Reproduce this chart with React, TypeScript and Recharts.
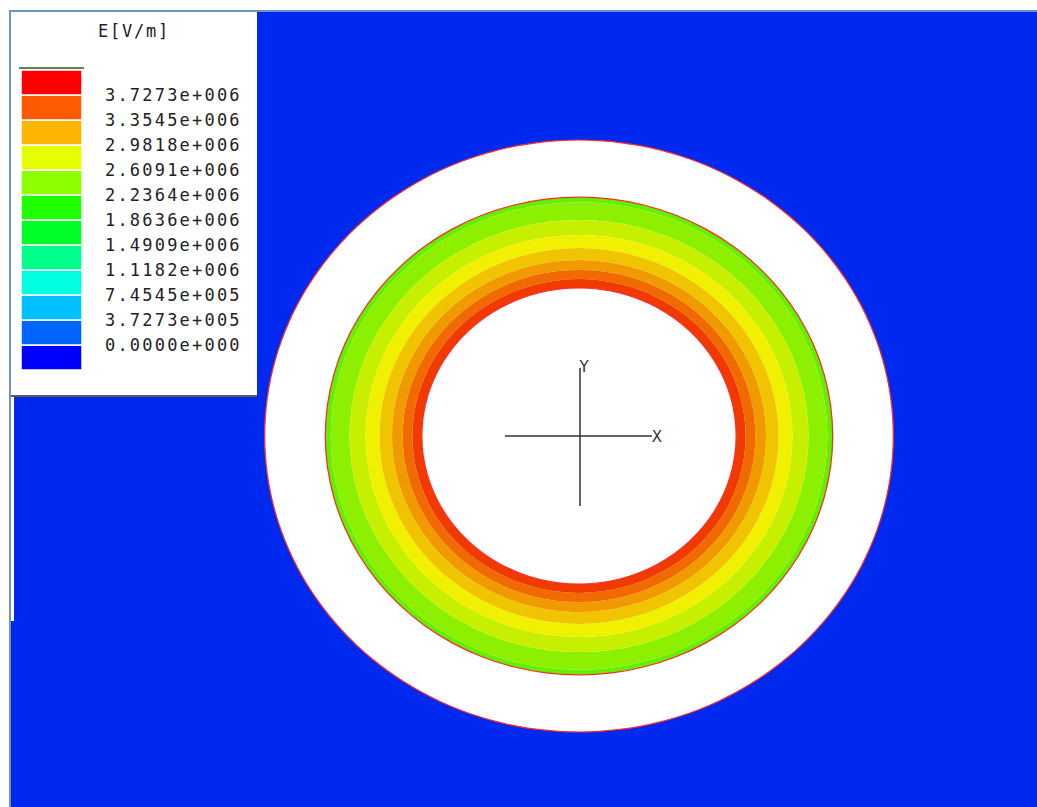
import React from "react";
import { PieChart, Pie, Cell, BarChart, Bar, XAxis, YAxis } from "recharts";

// field bands, radii in mm (outer edge of each band, going inward)
const bandOuterRadii = [8.07, 7.9, 7.3, 6.79, 6.35, 5.95, 5.61, 5.3];
const bandColors = [
  "#62f000",
  "#8cf000",
  "#c6f000",
  "#f0f000",
  "#f0c400",
  "#f09a00",
  "#f06a00",
  "#f03a00",
];
const innerConductorRadius = 5.0;
const outerShieldRadius = 10.0;

// legend
const legendColors = [
  "#0000ff",
  "#0064ff",
  "#00c0ff",
  "#00ffe0",
  "#00ff8c",
  "#00ff28",
  "#1eff00",
  "#8cff00",
  "#e6ff00",
  "#ffb400",
  "#ff5a00",
  "#ff0000",
];
const legendLevels = [
  0, 372730, 745450, 1118200, 1490900, 1863600, 2236400, 2609100, 2981800,
  3354500, 3727300,
];

const PX_PER_MM = 29.6;
const X_STRETCH = 1.062;
const CX = 579;
const CY = 436;
const BLUE = "#0029f0";
const FRAME = "#6d93cf";
const MONO = "'DejaVu Sans Mono', 'Liberation Mono', monospace";

function fmtLevel(v: number) {
  const [m, e] = v.toExponential(4).split("e");
  const sign = e[0] === "-" ? "-" : "+";
  const digits = e.replace(/[+-]/, "").padStart(3, "0");
  return `${m}e${sign}${digits}`;
}

const one = [{ v: 1 }];

function ringPie(r0: number, r1: number, color: string, id: string) {
  return (
    <Pie
      key={id}
      data={one}
      dataKey="v"
      cx={CX}
      cy={CY}
      innerRadius={r0}
      outerRadius={r1}
      startAngle={90}
      endAngle={-270}
      stroke="none"
      isAnimationActive={false}
    >
      <Cell fill={color} />
    </Pie>
  );
}

export default function App() {
  const legendRow: Record<string, number> = {};
  legendColors.forEach((_, i) => (legendRow[`k${i}`] = 1));
  const edge = (r: number, id: string) =>
    ringPie(r * PX_PER_MM - 0.6, r * PX_PER_MM + 0.6, "#ff2a2a", id);

  return (
    <div
      style={{
        position: "absolute",
        left: 0,
        top: 0,
        width: 1037,
        height: 807,
        overflow: "hidden",
        background: "#fff",
      }}
    >
      {/* background + frame */}
      <div style={{ position: "absolute", left: 11, top: 11, width: 1026, height: 796, background: BLUE }} />
      <div style={{ position: "absolute", left: 9, top: 10, width: 1028, height: 1.5, background: FRAME }} />
      <div style={{ position: "absolute", left: 9, top: 10, width: 2, height: 797, background: FRAME }} />
      <div style={{ position: "absolute", left: 11, top: 397, width: 2.5, height: 224, background: "#fff" }} />

      {/* coax cross-section */}
      <div
        style={{
          position: "absolute",
          left: 0,
          top: 0,
          transform: `scaleX(${X_STRETCH})`,
          transformOrigin: `${CX}px ${CY}px`,
        }}
      >
        <PieChart width={1037} height={807} margin={{ top: 0, right: 0, bottom: 0, left: 0 }}>
          {ringPie(0, outerShieldRadius * PX_PER_MM, "#ffffff", "shield")}
          {bandOuterRadii.map((r, i) =>
            ringPie(
              (bandOuterRadii[i + 1] ?? innerConductorRadius) * PX_PER_MM,
              r * PX_PER_MM,
              bandColors[i],
              `band${i}`
            )
          )}
          {ringPie(0, innerConductorRadius * PX_PER_MM, "#ffffff", "core")}
          {edge(outerShieldRadius, "e0")}
          {edge(bandOuterRadii[0], "e1")}
          {edge(innerConductorRadius, "e2")}
        </PieChart>
      </div>

      {/* coordinate axes marker */}
      <svg width={1037} height={807} style={{ position: "absolute", left: 0, top: 0 }}>
        <line x1={505} y1={CY} x2={652} y2={CY} stroke="#333" strokeWidth={1.5} />
        <line x1={580} y1={368} x2={580} y2={506} stroke="#333" strokeWidth={1.5} />
        <text x={657} y={442} fontSize={15} fontFamily="'DejaVu Sans', sans-serif" fill="#333" textAnchor="middle">
          X
        </text>
        <text x={584} y={372} fontSize={15} fontFamily="'DejaVu Sans', sans-serif" fill="#333" textAnchor="middle">
          Y
        </text>
      </svg>

      {/* legend panel */}
      <div style={{ position: "absolute", left: 11, top: 11.5, width: 246, height: 384, background: "#fff" }} />
      <div style={{ position: "absolute", left: 11, top: 395, width: 246, height: 2, background: "#5a5a5a" }} />
      <div
        style={{
          position: "absolute",
          left: 10,
          top: 21,
          width: 248,
          textAlign: "center",
          fontFamily: MONO,
          fontSize: 17,
          letterSpacing: 1.8,
          color: "#222",
        }}
      >
        E[V/m]
      </div>
      <div style={{ position: "absolute", left: 19, top: 66.5, width: 65, height: 2, background: "#6a7f55" }} />
      <div style={{ position: "absolute", left: 9, top: 10 }}>
        <BarChart
          width={248}
          height={386}
          data={[legendRow]}
          margin={{ top: 60, right: 0, bottom: 26, left: 12 }}
          barCategoryGap={0}
        >
          <XAxis type="category" hide />
          <YAxis
            type="number"
            orientation="right"
            domain={[0, legendColors.length]}
            ticks={legendLevels.map((_, i) => i + 1)}
            interval={0}
            width={175}
            axisLine={false}
            tickLine={false}
            tickSize={0}
            tickMargin={23}
            tickFormatter={(t: number) => fmtLevel(legendLevels[t - 1])}
            tick={{ fontFamily: MONO, fontSize: 17, fill: "#222", letterSpacing: 2.2 }}
          />
          {legendColors.map((c, i) => (
            <Bar
              key={c}
              dataKey={`k${i}`}
              stackId="s"
              fill={c}
              stroke="#ffffff"
              strokeWidth={1.5}
              isAnimationActive={false}
            />
          ))}
        </BarChart>
      </div>
    </div>
  );
}
